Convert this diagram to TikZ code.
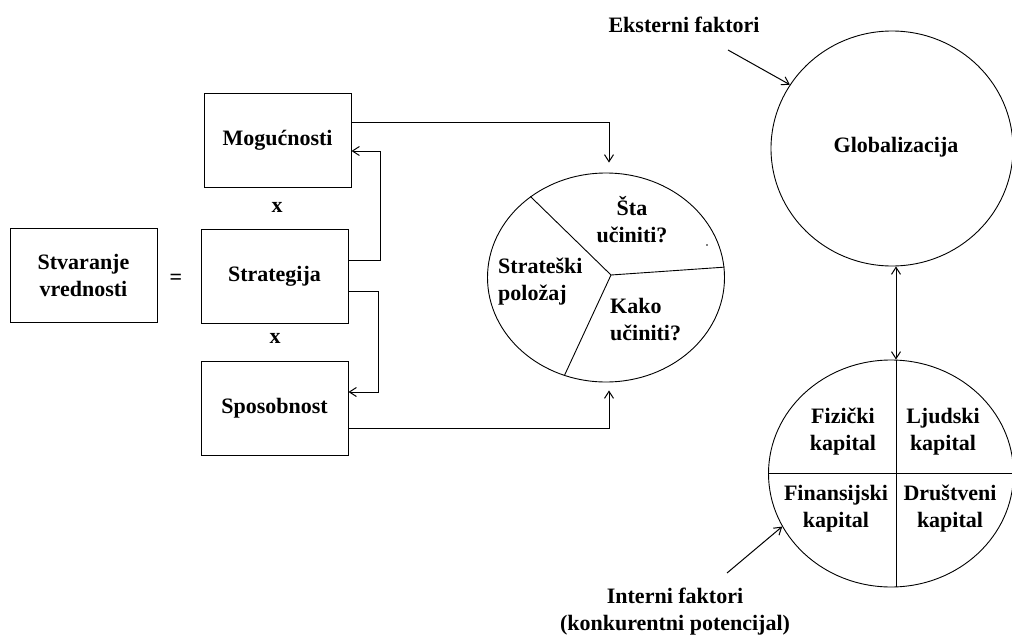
\documentclass[tikz,border=0pt]{standalone}
\usepackage{fontspec}
\setmainfont{Liberation Serif}
\usetikzlibrary{shapes.geometric,arrows.meta}
\begin{document}
\begin{tikzpicture}[x=1pt,y=-1pt,
  every node/.style={font=\fontsize{22}{27}\selectfont\bfseries},
  box/.style={draw, line width=1pt, minimum width=147pt, minimum height=94pt, inner sep=0pt, align=center},
  oval/.style={draw, ellipse, line width=0.9pt, inner sep=0pt},
  txt/.style={align=center, inner sep=0pt},
  ltxt/.style={align=left, inner sep=0pt, anchor=west},
  tip/.style={Straight Barb[length=7pt,width=9pt]},
  link/.style={line width=1pt, -{Straight Barb[length=7pt,width=9pt]}},
  link2/.style={line width=1pt, {Straight Barb[length=7pt,width=9pt]}-{Straight Barb[length=7pt,width=9pt]}},
  divider/.style={line width=0.9pt}]
\useasboundingbox (0,0) rectangle (1012,637);

% value creation equation
\node[box] (sv)  at (83.5,275)  {Stvaranje\\vrednosti};
\node[txt] (eq)  at (176,279)   {=};
\node[box] (mog) at (277.5,140) {Mogućnosti};
\node[txt] (x1)  at (277,207)   {x};
\node[box] (str) at (274.5,276) {Strategija};
\node[txt] (x2)  at (275,338)   {x};
\node[box] (spo) at (274.5,408) {Sposobnost};

% strategy wheel
\node[oval, minimum width=237pt, minimum height=209pt] (mid) at (606,277.5) {};
\coordinate (hub) at (611,275);
\draw[divider] (mid.133) -- (hub) -- (mid.5.4);
\draw[divider] (hub) -- (mid.247.6);
\fill (707,245) circle[radius=0.8pt];
\node[txt]  (sta) at (632,220) {Šta\\učiniti?};
\node[ltxt] (pol) at (498,282) {Strateški\\položaj};
\node[ltxt] (kak) at (610,320) {Kako\\učiniti?};

% connectors on the left
\draw[link] ([yshift=16pt]str.east) -- ++(32,0) |- ([yshift=-11pt]mog.east);
\draw[link] ([yshift=-15pt]str.east) -- ++(30,0) |- ([yshift=16pt]spo.east);
\draw[link] ([yshift=18pt]mog.east) -| ([xshift=3pt,yshift=10pt]mid.north);
\draw[link] ([yshift=-20pt]spo.east) -| ([xshift=3pt,yshift=-8pt]mid.south);

% globalization and capital
\node[oval, minimum width=242pt, minimum height=235pt] (glob) at (892,148.5) {};
\node[txt] (globt) at (896,147) {Globalizacija};
\node[oval, minimum width=245pt, minimum height=227pt] (cap) at (891,473.5) {};
\draw[divider] ([xshift=5pt]cap.north) -- ([xshift=5pt]cap.south);
\draw[divider] (cap.west) -- (cap.east);
\draw[link2] ([xshift=4pt]glob.south) -- ([xshift=5pt]cap.north);
\node[txt] (fiz) at (843,432) {Fizički\\kapital};
\node[txt] (lju) at (943,432) {Ljudski\\kapital};
\node[txt] (fin) at (836,509) {Finansijski\\kapital};
\node[txt] (dru) at (950,509) {Društveni\\kapital};

% external and internal factors
\node[txt] (ext) at (684,25) {Eksterni faktori};
\coordinate (extfrom) at (728,50);
\draw[link] (extfrom) -- (glob.148);
\node[txt] (int) at (675,612) {Interni faktori\\(konkurentni potencijal)};
\coordinate (intfrom) at (727,573);
\draw[link] (intfrom) -- (cap.206);
\end{tikzpicture}
\end{document}
